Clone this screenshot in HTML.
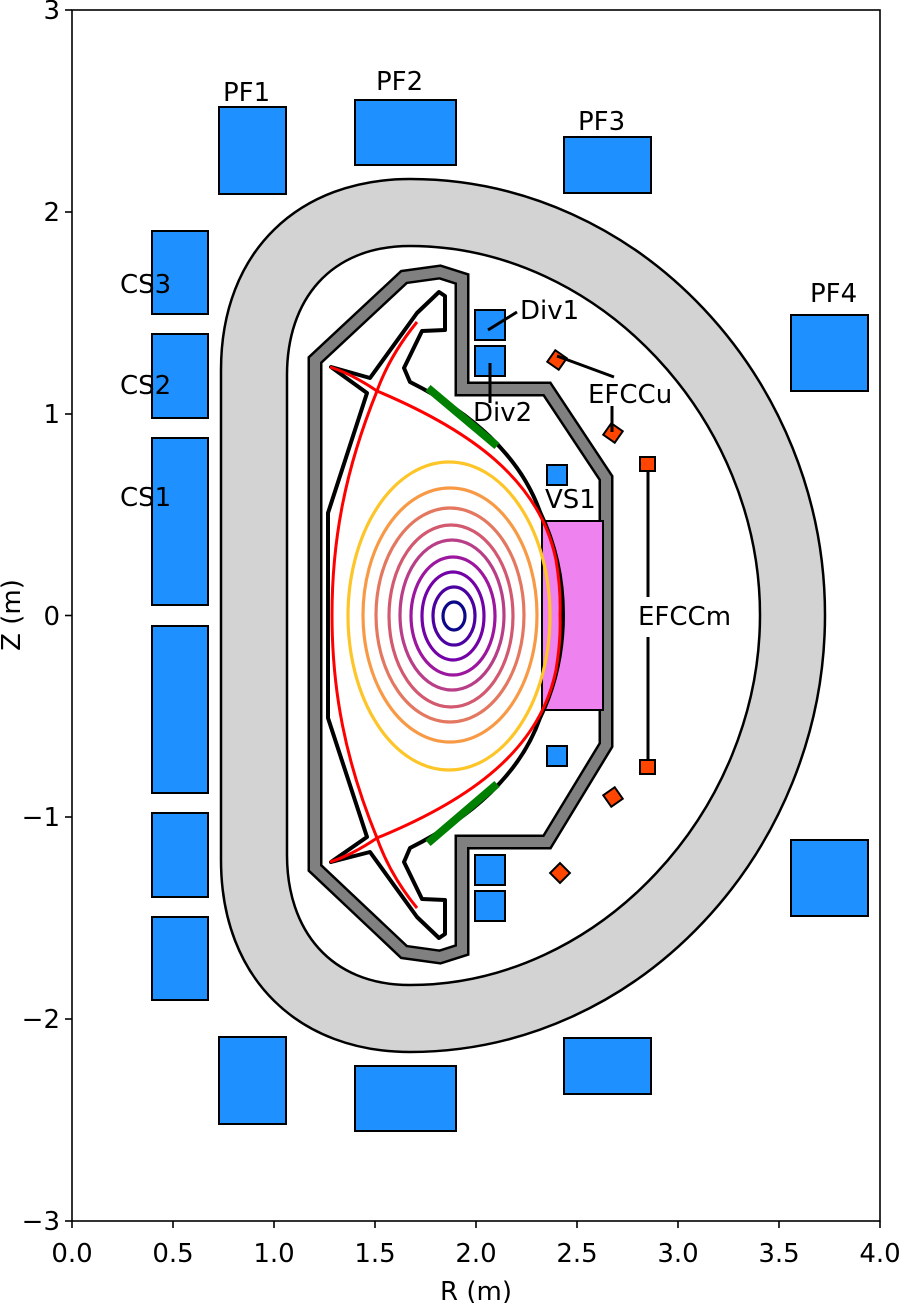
<!DOCTYPE html>
<html><head><meta charset="utf-8"><style>
html,body{margin:0;padding:0;background:#fff}
svg{display:block}
text{font-family:"DejaVu Sans","Liberation Sans",sans-serif;fill:#000}
</style></head><body>
<svg width="900" height="1303" viewBox="0 0 900 1303" xmlns="http://www.w3.org/2000/svg">
<path fill-rule="evenodd" fill="#d3d3d3" stroke="#000" stroke-width="2.5"
d="M221,860 L221,370 C221,250 300,179 410,179 C640,179 825,380 825,615 C825,850 640,1052 410,1052 C300,1052 221,980 221,860 Z
M287,855 L287,375 C287,300 330,246 410,246 C600,246 760,420 760,615 C760,810 600,985 410,985 C330,985 287,930 287,855 Z"/>
<path fill="none" stroke="#000" stroke-width="15" stroke-linejoin="miter" d="M315,615 L315,360 L404,277 L440,272 L462,279 L462,389 L547,389 L606,478 L606,745 L547,842 L462,842 L462,950 L440,957 L404,952 L315,868 Z"/>
<path fill="none" stroke="#808080" stroke-width="10" stroke-linejoin="miter" d="M315,615 L315,360 L404,277 L440,272 L462,279 L462,389 L547,389 L606,478 L606,745 L547,842 L462,842 L462,950 L440,957 L404,952 L315,868 Z"/>
<rect x="542" y="521" width="61" height="189" fill="#ee82ee" stroke="#000" stroke-width="2"/>
<path fill="none" stroke="#000" stroke-width="4" stroke-linejoin="round"
d="M331,367 L370,378 L417,313 L439,292 L445,296 L445,330 L422,331 L404,368 L410,382 C470,412 520,455 540,512 C556,545 563,580 563,615 C563,650 556,685 540,718 C520,775 470,818 410,848 L404,862 L422,899 L445,900 L445,934 L439,938 L417,917 L370,852 L331,862 L367,837 L328,718 L328,513 L367,393 Z"/>
<path d="M428,388 L497,446" stroke="#008000" stroke-width="8"/>
<path d="M428,843 L497,784" stroke="#008000" stroke-width="8"/>
<g fill="none" stroke="#ff0000" stroke-width="3">
<path d="M330,367 Q352,374 377,391 C470,430 540,480 556,560 Q561,590 560,615 Q561,640 556,670 C540,750 470,800 377,838 Q352,855 330,862"/>
<path d="M417,322 Q390,355 377,391 C345,470 332,540 332,615 C332,690 345,760 377,838 Q390,875 417,908"/>
</g>
<g fill="none" stroke-width="3.2">
<ellipse cx="449" cy="616" rx="101" ry="154" stroke="#fdc527"/>
<ellipse cx="450" cy="615" rx="87" ry="127" stroke="#f89a45"/>
<ellipse cx="450" cy="615" rx="74" ry="107" stroke="#e37760"/>
<ellipse cx="451" cy="616" rx="62" ry="91" stroke="#d2596f"/>
<ellipse cx="452" cy="615" rx="52" ry="75" stroke="#b83e88"/>
<ellipse cx="453" cy="616" rx="42" ry="59" stroke="#9c179e"/>
<ellipse cx="453" cy="616" rx="31" ry="44" stroke="#7301a8"/>
<ellipse cx="454" cy="616" rx="21" ry="29" stroke="#4c02a1"/>
<ellipse cx="454" cy="616" rx="11" ry="14" stroke="#0d0887"/>
</g>
<g fill="#1e90ff" stroke="#000" stroke-width="2">
<rect x="219" y="107" width="67" height="87"/>
<rect x="355" y="100" width="101" height="65"/>
<rect x="564" y="137" width="87" height="56"/>
<rect x="791" y="315" width="77" height="76"/>
<rect x="152" y="231" width="56" height="83"/>
<rect x="152" y="334" width="56" height="84"/>
<rect x="152" y="438" width="56" height="167"/>
<rect x="152" y="626" width="56" height="167"/>
<rect x="152" y="813" width="56" height="84"/>
<rect x="152" y="917" width="56" height="83"/>
<rect x="219" y="1037" width="67" height="87"/>
<rect x="355" y="1066" width="101" height="65"/>
<rect x="564" y="1038" width="87" height="56"/>
<rect x="791" y="840" width="77" height="76"/>
<rect x="475" y="310" width="30" height="30"/>
<rect x="475" y="346" width="30" height="30"/>
<rect x="475" y="855" width="30" height="30"/>
<rect x="475" y="891" width="30" height="30"/>
<rect x="547" y="465" width="20" height="20"/>
<rect x="547" y="746" width="20" height="20"/>
</g>
<g fill="#ff4500" stroke="#000" stroke-width="2">
<rect x="550" y="353" width="14" height="14" transform="rotate(35 557 360)"/>
<rect x="606" y="426" width="14" height="14" transform="rotate(35 613 433)"/>
<rect x="606" y="790" width="14" height="14" transform="rotate(55 613 797)"/>
<rect x="553" y="866" width="14" height="14" transform="rotate(45 560 873)"/>
<rect x="640" y="457" width="15" height="14"/>
<rect x="640" y="760" width="15" height="14"/>
</g>
<g stroke="#000" stroke-width="3">
<line x1="488" y1="330" x2="517" y2="312"/>
<line x1="490" y1="363" x2="490" y2="403"/>
<line x1="557" y1="356" x2="614" y2="377"/>
<line x1="612" y1="406" x2="612" y2="432"/>
<line x1="648" y1="470" x2="648" y2="597"/>
<line x1="648" y1="637" x2="648" y2="760"/>
</g>
<g font-size="26">
<text x="223" y="101">PF1</text>
<text x="376" y="90">PF2</text>
<text x="578" y="130">PF3</text>
<text x="810" y="302">PF4</text>
<text x="120" y="293">CS3</text>
<text x="120" y="394">CS2</text>
<text x="120" y="506">CS1</text>
<text x="520" y="319">Div1</text>
<text x="473" y="421">Div2</text>
<text x="545" y="508">VS1</text>
<text x="588" y="403">EFCCu</text>
<text x="638" y="625">EFCCm</text>
</g>
<rect x="72" y="10" width="808" height="1211" fill="none" stroke="#000" stroke-width="1.6"/>
<g stroke="#000" stroke-width="1.6">
<line x1="72" y1="1221" x2="72" y2="1228"/><line x1="173" y1="1221" x2="173" y2="1228"/>
<line x1="274" y1="1221" x2="274" y2="1228"/><line x1="375" y1="1221" x2="375" y2="1228"/>
<line x1="476" y1="1221" x2="476" y2="1228"/><line x1="577" y1="1221" x2="577" y2="1228"/>
<line x1="678" y1="1221" x2="678" y2="1228"/><line x1="779" y1="1221" x2="779" y2="1228"/>
<line x1="880" y1="1221" x2="880" y2="1228"/>
<line x1="65" y1="10" x2="72" y2="10"/><line x1="65" y1="212" x2="72" y2="212"/>
<line x1="65" y1="414" x2="72" y2="414"/><line x1="65" y1="615.5" x2="72" y2="615.5"/>
<line x1="65" y1="817" x2="72" y2="817"/><line x1="65" y1="1019" x2="72" y2="1019"/>
<line x1="65" y1="1221" x2="72" y2="1221"/>
</g>
<g font-size="26" text-anchor="middle">
<text x="72" y="1262">0.0</text><text x="173" y="1262">0.5</text><text x="274" y="1262">1.0</text>
<text x="375" y="1262">1.5</text><text x="476" y="1262">2.0</text><text x="577" y="1262">2.5</text>
<text x="678" y="1262">3.0</text><text x="779" y="1262">3.5</text><text x="880" y="1262">4.0</text>
<text x="476" y="1300">R (m)</text>
</g>
<g font-size="26" text-anchor="end">
<text x="60" y="19">3</text><text x="60" y="221">2</text><text x="60" y="423">1</text>
<text x="60" y="625">0</text><text x="60" y="826">−1</text><text x="60" y="1028">−2</text>
<text x="60" y="1230">−3</text>
</g>
<text x="0" y="0" font-size="26" text-anchor="middle" transform="translate(20,615) rotate(-90)">Z (m)</text>
</svg>
</body></html>
